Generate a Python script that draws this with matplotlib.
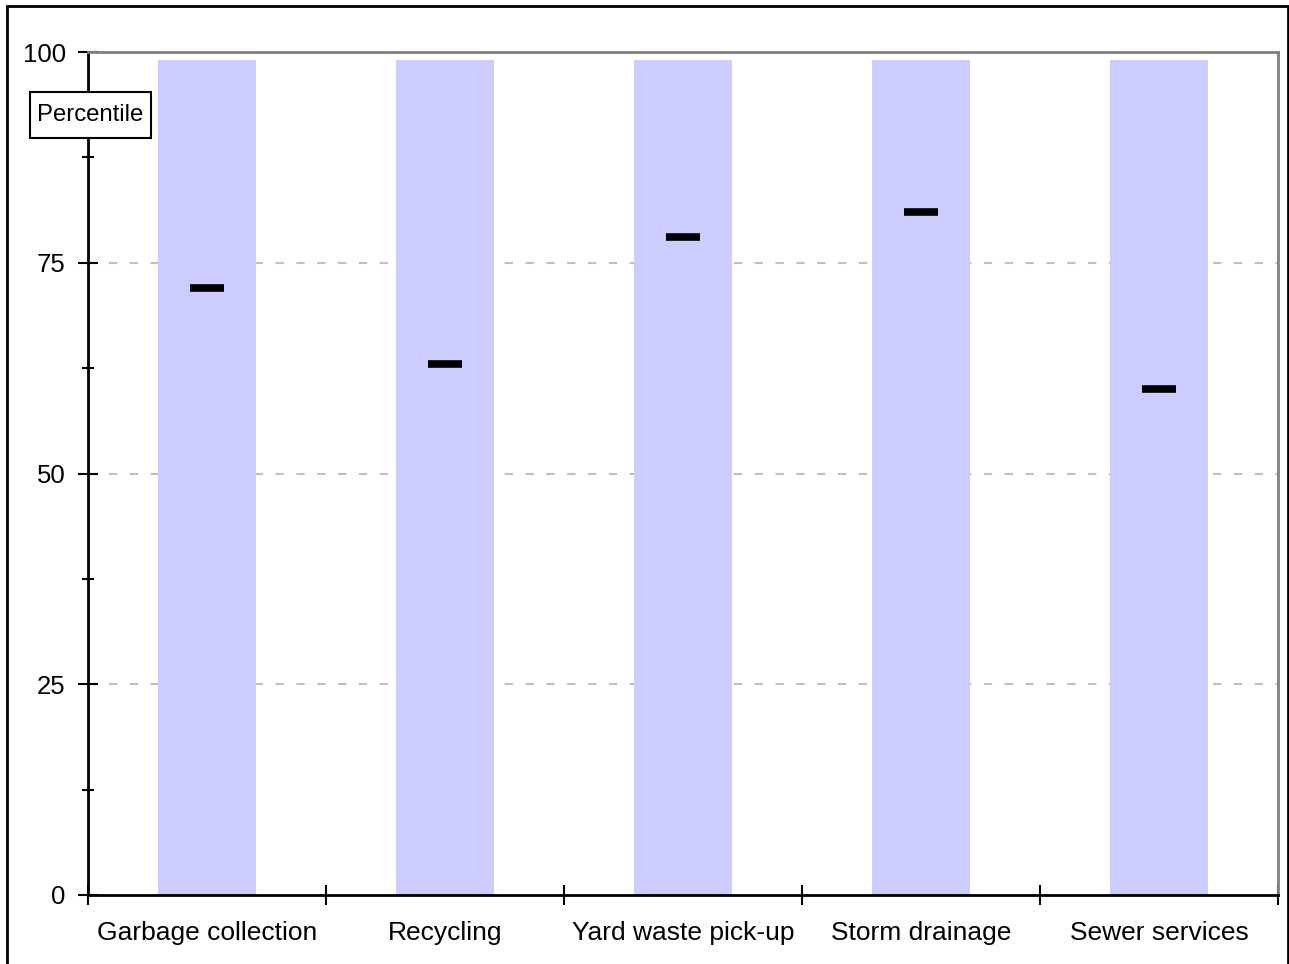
import numpy as np
import matplotlib.pyplot as plt
from matplotlib.patches import Rectangle
from matplotlib.transforms import blended_transform_factory

services = ['Garbage collection', 'Recycling', 'Yard waste pick-up',
            'Storm drainage', 'Sewer services']
range_top = [99, 99, 99, 99, 99]
percentile = [72, 63, 78, 81, 60]
y_ticks = [0, 25, 50, 75, 100]

plt.rcParams['font.family'] = ['Liberation Sans', 'DejaVu Sans']

fig = plt.figure(figsize=(12.89, 9.64), dpi=100)
ax = fig.add_axes([88/1289, 1-895/964, 1190/1289, 843/964])

x = np.arange(len(services))
ax.bar(x, range_top, width=0.41, color='#ccccff', zorder=2)
ax.plot(x, percentile, linestyle='none', marker='_', markersize=25,
        markeredgewidth=5.5, color='black', zorder=3)

ax.set_xlim(-0.5, len(services) - 0.5)
ax.set_ylim(0, 100)

# gridlines
for v in y_ticks[1:-1]:
    ax.axhline(v, color='#c0c0c0', lw=1.5, linestyle=(0, (4, 6)), zorder=1)

ax.set_yticks(y_ticks)
ax.set_yticks(np.arange(12.5, 100, 25), minor=True)
ax.tick_params(axis='y', which='major', direction='inout', length=14, width=1.5,
               labelsize=18.5, pad=9)
ax.tick_params(axis='y', which='minor', direction='inout', length=9, width=1.5)

ax.set_xticks(np.arange(-0.5, len(services), 1))
ax.set_xticklabels([])
ax.set_xticks(x, minor=True)
ax.set_xticklabels(services, minor=True)
ax.tick_params(axis='x', which='major', direction='inout', length=14, width=1.5)
ax.tick_params(axis='x', which='minor', length=0, labelsize=19, pad=19)

for s in ['left', 'bottom']:
    ax.spines[s].set_linewidth(2)
    ax.spines[s].set_color('black')
for s in ['top', 'right']:
    ax.spines[s].set_linewidth(2)
    ax.spines[s].set_color('#808080')

# axis title box
trans = blended_transform_factory(ax.transAxes, ax.transData)
ax.add_patch(Rectangle((-58/1190, 89.8), 121/1190, 5.45, transform=trans,
                       fc='white', ec='black', lw=1.5, clip_on=False, zorder=5))
ax.text(2.5/1190, 92.5, 'Percentile', transform=trans, ha='center',
        va='center', fontsize=17.2, zorder=6)

# outer frame
fig.patches.append(Rectangle((7/1289, -0.1), 1281/1289, 1.1 - 6/964,
                             transform=fig.transFigure, fill=False,
                             ec='black', lw=2))

fig.savefig('out.png', dpi=100)
